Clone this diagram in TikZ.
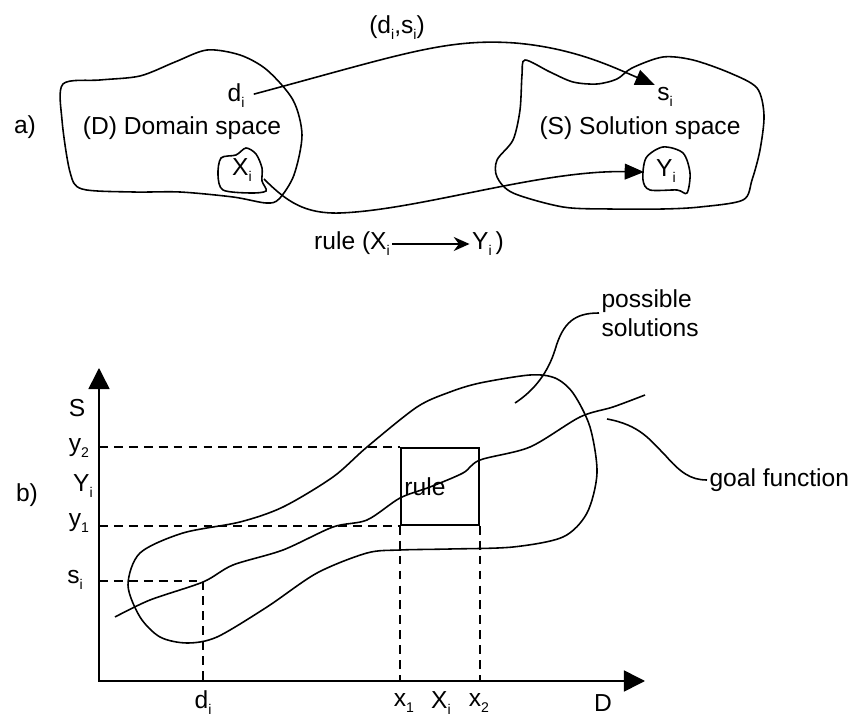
\documentclass[tikz,border=0pt]{standalone}
\usepackage{fontspec}
\setmainfont{Liberation Sans}
\usetikzlibrary{arrows.meta, positioning, calc}
\newcommand{\lowsub}[1]{\raisebox{-0.45ex}{\fontsize{8}{8}\selectfont #1}}
\newcommand{\subi}{\lowsub{i}}

\begin{document}
\begin{tikzpicture}[x=0.02cm, y=-0.02cm, line width=0.9pt, font=\fontsize{14}{16.5}\selectfont]
\tikzstyle{lbl} = [inner sep=1pt]
\tikzstyle{blob} = [draw, line width=0.9pt]
\tikzstyle{guide} = [draw, dash pattern=on 5pt off 3.5pt, line width=0.9pt]
\tikzstyle{line} = [draw, -{Triangle[length=11pt, width=9pt]}]
\tikzstyle{leader} = [draw, line width=0.9pt]

\useasboundingbox (0,0) rectangle (866,719);

% a) domain and solution space
\node (tagA) [lbl] at (25,127) {a)};
\node (di) [lbl] at (236,96) {d\subi};
\node (dom) [lbl] at (182,128) {(D) Domain space};
\node (xi) [lbl] at (242,170) {X\subi};
\node (pair) [lbl] at (397,28) {(d\subi,s\subi)};
\node (si) [lbl] at (665,97) {s\subi};
\node (sol) [lbl] at (640,128) {(S) Solution space};
\node (yi) [lbl] at (666,171) {Y\subi};
\node (rl) [lbl] at (352,244) {rule (X\subi};
\node (rr) [lbl] at (488,244) {Y\subi\,)};
\coordinate (xo) at (264,179);
\coordinate (yin) at (644,172);

\draw [blob] plot [smooth cycle] coordinates {(63,84) (100,80) (140,76) (175,62) (207,50) (240,55) (267,70) (293,100) (302,135) (294,175) (279,199) (266,203) (233,197) (180,192) (133,192) (82,189) (70,172) (62,120)};
\draw [blob] plot [smooth cycle] coordinates {(221,158) (236,155) (246,148) (256,154) (262,168) (262,181) (266,191) (250,193) (223,190) (218,175)};
\draw [blob] plot [smooth cycle] coordinates {(525,60) (550,72) (573,82) (597,84) (617,79) (632,68) (663,57) (693,60) (730,73) (757,88) (764,115) (760,150) (752,180) (743,200) (700,207) (663,209) (610,209) (563,207) (513,193) (497,177) (497,160) (513,140) (520,110) (522,75)};
\draw [blob] plot [smooth cycle] coordinates {(646,158) (663,147) (683,153) (690,173) (687,193) (677,190) (650,190) (643,180)};

\draw [line, shorten <=4pt] (di.east) .. controls (400,55) and (445,38) .. (515,43) .. controls (575,48) and (615,68) .. (si.north west);
\draw [line] (xo) .. controls (287,202) and (305,214) .. (340,213) .. controls (420,210) and (540,170) .. (yin);
\draw [-{Stealth[length=9pt, width=8pt]}] (rl.east) -- (rr.west);

% b) goal function
\node (tagB) [lbl] at (27,495) {b)};
\coordinate (O) at (99,681);
\coordinate (ytop) at (99,368);
\coordinate (xend) at (645,681);
\draw [{Triangle[length=12pt, width=12pt]}-{Triangle[length=12pt, width=12pt]}] (ytop) -- (O) -- (xend);

\node (S) [lbl] at (77,408) {S};
\node (y2) [lbl] at (79,448) {y\lowsub{2}};
\node (Yi) [lbl] at (83,486) {Y\subi};
\node (y1) [lbl] at (79,523) {y\lowsub{1}};
\node (sy) [lbl] at (75,580) {s\subi};
\node (dx) [lbl] at (203,703) {d\subi};
\node (x1) [lbl] at (404,703) {x\lowsub{1}};
\node (Xx) [lbl] at (441,703) {X\subi};
\node (x2) [lbl] at (479,703) {x\lowsub{2}};
\node (D) [lbl] at (603,703) {D};

\node (rbox) [draw, minimum width=1.56cm, minimum height=1.54cm, inner sep=0pt] at (440,486.5) {};
\node (rtxt) [lbl] at (425,487) {rule};
\coordinate (pt) at (203,581);

\draw [guide] (O |- rbox.north west) -- (rbox.north west);
\draw [guide] (O |- rbox.south west) -- (rbox.south west);
\draw [guide] (rbox.south west) -- (rbox.south west |- O);
\draw [guide] (rbox.south east) -- (rbox.south east |- O);
\draw [guide] (O |- pt) -- (pt) -- (pt |- O);

\draw [blob] plot [smooth cycle] coordinates {(128,585) (140,553) (183,533) (240,522) (283,507) (333,477) (367,447) (417,407) (450,392) (480,383) (530,375) (555,378) (573,393) (590,427) (597,473) (587,513) (563,537) (513,547) (450,549) (400,550) (367,553) (317,573) (267,607) (217,637) (187,643) (160,637) (140,617)};
\draw [blob] plot [smooth] coordinates {(115,617) (150,600) (203,582) (233,565) (283,550) (333,527) (367,520) (400,498) (430,487) (463,473) (480,460) (530,447) (580,417) (613,407) (645,395)};

\node (ps) [lbl, anchor=west, align=left] at (599,313) {possible\\solutions};
\node (gf) [lbl, anchor=west] at (707,480) {goal function};
\coordinate (psin) at (515,403);
\coordinate (gfin) at (607,419);
\draw [leader] (psin) .. controls (535,390) and (548,372) .. (555,350) .. controls (563,322) and (575,313) .. (ps.west);
\draw [leader] (gfin) .. controls (640,425) and (650,440) .. (665,455) .. controls (680,472) and (690,480) .. (gf.west);
\end{tikzpicture}
\end{document}
